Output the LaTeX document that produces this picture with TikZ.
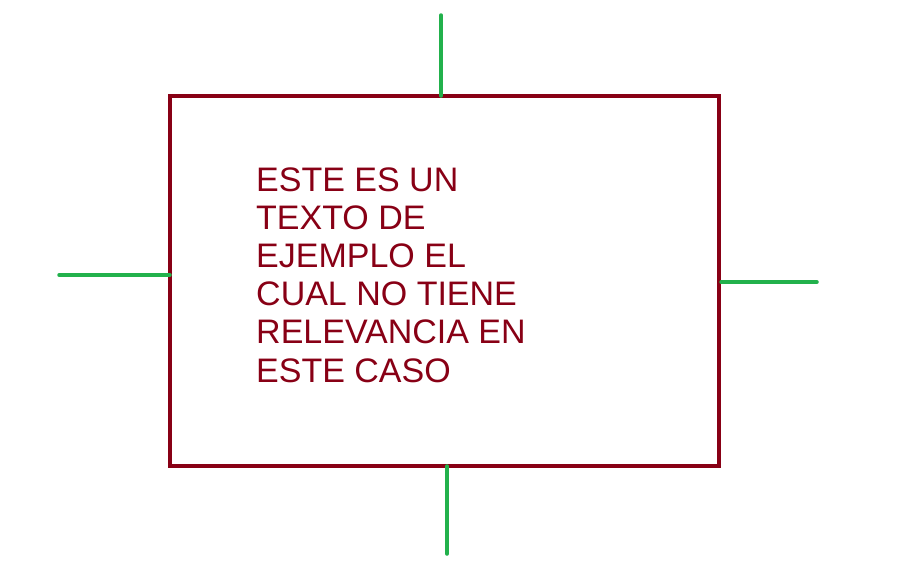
\documentclass[tikz,border=0pt]{standalone}
\usepackage{fontspec}
\setmainfont{Liberation Sans}
\definecolor{boxred}{RGB}{136,0,21}
\definecolor{stubgreen}{RGB}{34,177,76}
\tikzset{
  frame/.style={draw=boxred,line width=4pt},
  stub/.style={draw=stubgreen,line width=3.5pt,line cap=round},
  lbl/.style={text=boxred,font=\fontsize{34}{38}\selectfont,inner sep=0pt,anchor=base west}
}

\begin{document}
\begin{tikzpicture}[x=1pt,y=-1pt]
            \useasboundingbox (0,0) rectangle (900,587);
            \coordinate (bnw) at (170,96);
            \coordinate (bse) at (719,466);
            \draw[frame] (bnw) rectangle (bse);
            % stubs
            \coordinate (t0) at (441,96);  \coordinate (t1) at (441,15);
            \coordinate (l0) at (170,275); \coordinate (l1) at (59,275);
            \coordinate (r0) at (721,282); \coordinate (r1) at (817,282);
            \coordinate (d0) at (447,466); \coordinate (d1) at (447,554);
            \foreach \s in {t,l,r,d}{
                \draw[stub] (\s0)--(\s1);
            }
            \foreach \txt [count=\i] in {ESTE ES UN,TEXTO DE,EJEMPLO EL,CUAL NO TIENE,RELEVANCIA EN,ESTE CASO}{
                \node[lbl] (line\i) at (256,191+38.2*\i-38.2) {\txt};
            }
        \end{tikzpicture}
\end{document}
